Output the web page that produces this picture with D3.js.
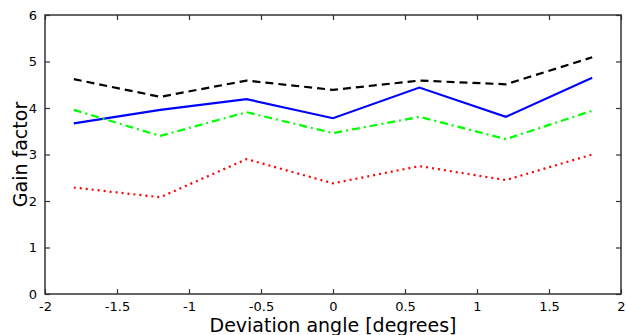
<!DOCTYPE html>
<html>
<head>
<meta charset="utf-8">
<script src="https://cdn.jsdelivr.net/npm/d3@7"></script>
<style>
  body { margin: 0; background: #fff; }
  svg text { font-family: "DejaVu Sans", sans-serif; fill: #000; }
  .tick text { font-size: 13px; }
  .axis-title { font-size: 19px; }
</style>
</head>
<body>
<div id="chart"></div>
<script>
// deviation angles (degrees)
const angles = [-1.8, -1.2, -0.6, 0, 0.6, 1.2, 1.8];
// gain factor per series
const blackDashed = [4.62, 4.24, 4.59, 4.39, 4.59, 4.51, 5.09];
const blueSolid = [3.67, 3.96, 4.19, 3.78, 4.44, 3.81, 4.65];
const greenDashDot = [3.96, 3.40, 3.91, 3.46, 3.81, 3.33, 3.94];
const redDotted = [2.29, 2.08, 2.90, 2.38, 2.75, 2.45, 3.00];
const xTicks = [-2, -1.5, -1, -0.5, 0, 0.5, 1, 1.5, 2];
const yTicks = [0, 1, 2, 3, 4, 5, 6];

const series = [
  { values: blackDashed, color: '#000000', dash: '8,5' },
  { values: blueSolid, color: '#0000ff', dash: null },
  { values: greenDashDot, color: '#00ff00', dash: '8,4,2,4' },
  { values: redDotted, color: '#ff0000', dash: '2,4' }
];

const W = 626, H = 335;
const margin = { top: 15, right: 5, bottom: 41, left: 45 };
const width = W - margin.left - margin.right;
const height = H - margin.top - margin.bottom;

const svg = d3.select('#chart').append('svg')
  .attr('width', W)
  .attr('height', H)
  .append('g')
  .attr('transform', 'translate(' + margin.left + ',' + margin.top + ')');

const x = d3.scaleLinear().domain([-2, 2]).range([0, width]);
const y = d3.scaleLinear().domain([0, 6]).range([height, 0]);

const fmt = function (d) { return String(d); };

// axes with inward ticks
const xAxis = svg.append('g')
  .attr('transform', 'translate(0,' + height + ')')
  .call(d3.axisBottom(x).tickValues(xTicks).tickSizeInner(-5).tickSizeOuter(0).tickPadding(8).tickFormat(fmt));
const yAxis = svg.append('g')
  .call(d3.axisLeft(y).tickValues(yTicks).tickSizeInner(-5).tickSizeOuter(0).tickPadding(8).tickFormat(fmt));
const xTop = svg.append('g')
  .call(d3.axisTop(x).tickValues(xTicks).tickSizeInner(-5).tickSizeOuter(0).tickFormat(''));
const yRight = svg.append('g')
  .attr('transform', 'translate(' + width + ',0)')
  .call(d3.axisRight(y).tickValues(yTicks).tickSizeInner(-5).tickSizeOuter(0).tickFormat(''));

[xAxis, yAxis, xTop, yRight].forEach(function (a) {
  a.select('.domain').remove();
  a.selectAll('.tick line').attr('stroke', '#333').attr('stroke-width', 1.2);
});

// frame
svg.append('rect')
  .attr('x', 0).attr('y', 0)
  .attr('width', width).attr('height', height)
  .attr('fill', 'none')
  .attr('stroke', '#333')
  .attr('stroke-width', 1.5);

// lines
const line = d3.line()
  .x(function (d, i) { return x(angles[i]); })
  .y(function (d) { return y(d); });

series.forEach(function (s) {
  svg.append('path')
    .datum(s.values)
    .attr('d', line)
    .attr('fill', 'none')
    .attr('stroke', s.color)
    .attr('stroke-width', 2.2)
    .attr('stroke-dasharray', s.dash);
});

// axis titles
svg.append('text')
  .attr('class', 'axis-title')
  .attr('x', width / 2)
  .attr('y', height + 38)
  .attr('text-anchor', 'middle')
  .text('Deviation angle [degrees]');

svg.append('text')
  .attr('class', 'axis-title')
  .attr('transform', 'translate(' + (-18) + ',' + (height / 2) + ') rotate(-90)')
  .attr('text-anchor', 'middle')
  .text('Gain factor');
</script>
</body>
</html>
